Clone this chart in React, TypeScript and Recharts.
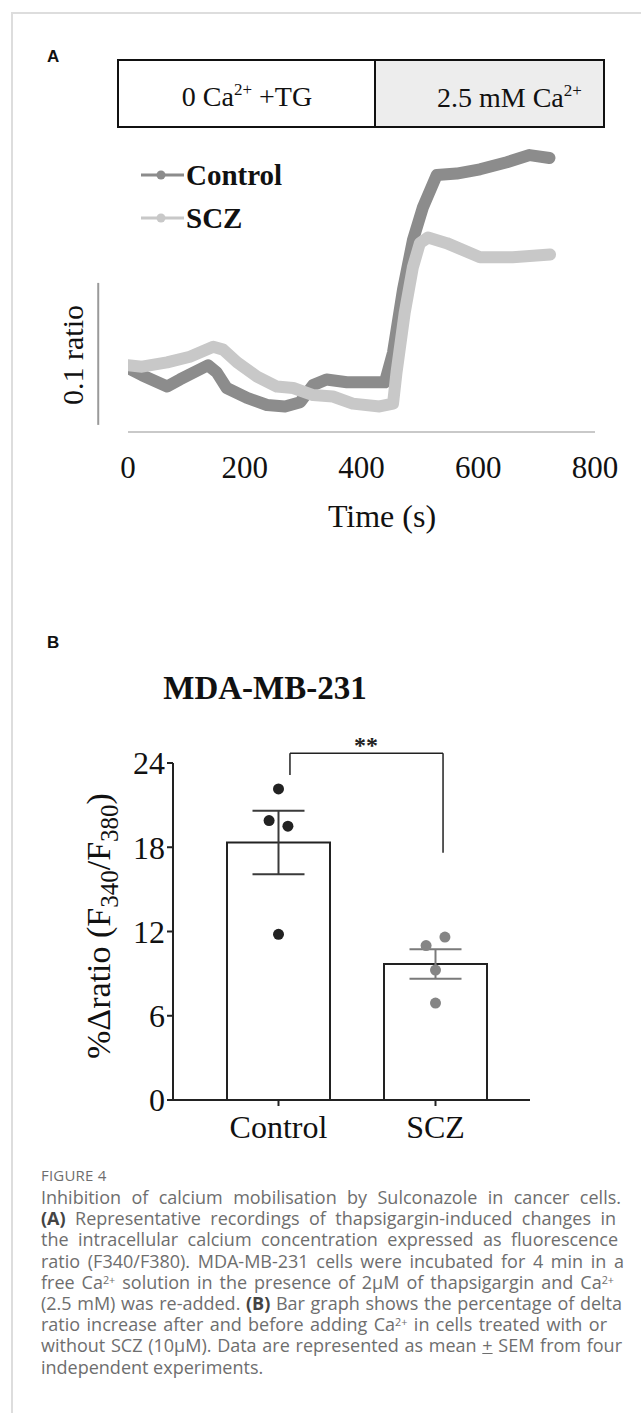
import React from 'react';
import {
  LineChart, Line, XAxis, YAxis, ReferenceLine, Legend,
  ComposedChart, Bar, Scatter, ErrorBar,
} from 'recharts';

// ---------- Panel A : calcium traces ----------
const timeTicks = [0, 200, 400, 600, 800];
const controlTime = [0, 24, 67, 89, 137, 152, 169, 204, 238, 269, 295, 317, 340, 375, 414, 440, 454, 471, 488, 505, 529, 563, 603, 649, 688, 722];
const controlRatio = [0.645, 0.640, 0.632, 0.637, 0.647, 0.642, 0.631, 0.624, 0.619, 0.618, 0.621, 0.633, 0.637, 0.635, 0.635, 0.635, 0.656, 0.700, 0.735, 0.758, 0.781, 0.782, 0.785, 0.790, 0.795, 0.793];
const sczTime = [0, 24, 67, 106, 146, 163, 187, 221, 255, 283, 317, 351, 385, 431, 454, 460, 474, 488, 500, 514, 546, 603, 659, 723];
const sczRatio = [0.647, 0.646, 0.649, 0.653, 0.660, 0.658, 0.649, 0.639, 0.632, 0.631, 0.626, 0.625, 0.620, 0.618, 0.620, 0.642, 0.684, 0.716, 0.733, 0.737, 0.733, 0.723, 0.723, 0.725];
const scaleBarRatio = [0.605, 0.705];

// ---------- Panel B : bar graph ----------
const groups = ['Control', 'SCZ'];
const groupMeans = [18.34, 9.69];
const groupSem = [2.26, 1.05];
const controlValues = [22.15, 19.9, 19.5, 11.8];
const controlOffsets = [0, -0.06, 0.06, 0];
const sczValues = [11.0, 11.6, 9.25, 6.9];
const sczOffsets = [-0.06, 0.06, 0, 0];
const barTicks = [0, 6, 12, 18, 24];

const SERIF = '"Liberation Serif", "Times New Roman", serif';
const SANS = '"Liberation Sans", Arial, sans-serif';
const CAPTION = '"Open Sans", sans-serif';

const controlData = controlTime.map((t, i) => ({ t, ratio: controlRatio[i] }));
const sczData = sczTime.map((t, i) => ({ t, ratio: sczRatio[i] }));
const barData = groups.map((g, i) => ({ group: g, mean: groupMeans[i] }));
const errCtrl = [{ x: 0, y: groupMeans[0], err: groupSem[0] }];
const errScz = [{ x: 1, y: groupMeans[1], err: groupSem[1] }];
const dotsCtrl = controlValues.map((v, i) => ({ x: 0 + controlOffsets[i], y: v }));
const dotsScz = sczValues.map((v, i) => ({ x: 1 + sczOffsets[i], y: v }));

const legendColors: Record<string, string> = { Control: '#8c8c8c', SCZ: '#c8c8c8' };

const LegendA = (props: any) => {
  const items = props.payload || [];
  return (
    <div>
      {items.map((it: any) => (
        <div key={it.value} style={{ display: 'flex', alignItems: 'center', height: 43 }}>
          <svg width={47} height={20} style={{ display: 'block' }}>
            <line x1={2} y1={10} x2={45} y2={10} stroke={legendColors[it.value] || it.color} strokeWidth={3} />
            <circle cx={22} cy={10} r={4.5} fill={legendColors[it.value] || it.color} />
          </svg>
          <span style={{ fontFamily: SERIF, fontWeight: 700, fontSize: 29, lineHeight: 1, color: '#111' }}>{it.value}</span>
        </div>
      ))}
    </div>
  );
};

const timeLabel = () => (
  <text x={382} y={527} textAnchor="middle" fontSize={32} fontFamily={SERIF} fill="#111">Time (s)</text>
);
const ratioLabel = () => (
  <text transform="translate(83,355) rotate(-90)" x={0} y={0} textAnchor="middle" fontSize={30} fontFamily={SERIF} fill="#111">0.1 ratio</text>
);
const yLabelB = () => (
  <text transform="translate(110,306) rotate(-90)" x={0} y={0} textAnchor="middle" fontSize={34} fontFamily={SERIF} fill="#111">
    %Δratio (F<tspan dy={8} fontSize={25}>340</tspan><tspan dy={-8}>/F</tspan><tspan dy={8} fontSize={25}>380</tspan><tspan dy={-8}>)</tspan>
  </text>
);

const emptyShape = () => <g />;
const dotShape = (color: string) => (p: any) => <circle cx={p.cx} cy={p.cy} r={5.5} fill={color} />;

const supStyle: React.CSSProperties = { fontSize: '0.6em', lineHeight: 0, verticalAlign: 'baseline', position: 'relative', top: '-0.45em' };
const boldStyle: React.CSSProperties = { color: '#444', fontWeight: 700 };

const capLines: { w: number; node: React.ReactNode }[] = [
  { w: 580, node: <>Inhibition of calcium mobilisation by Sulconazole in cancer cells.</> },
  { w: 575, node: <><span style={boldStyle}>(A)</span> Representative recordings of thapsigargin-induced changes in</> },
  { w: 577, node: <>the intracellular calcium concentration expressed as fluorescence</> },
  { w: 583, node: <>ratio (F340/F380). MDA-MB-231 cells were incubated for 4 min in a</> },
  { w: 573, node: <>free Ca<span style={supStyle}>2+</span> solution in the presence of 2μM of thapsigargin and Ca<span style={supStyle}>2+</span></> },
  { w: 581, node: <>(2.5 mM) was re-added. <span style={boldStyle}>(B)</span> Bar graph shows the percentage of delta</> },
  { w: 566, node: <>ratio increase after and before adding Ca<span style={supStyle}>2+</span> in cells treated with or</> },
  { w: 581, node: <>without SCZ (10μM). Data are represented as mean <span style={{ textDecoration: 'underline' }}>+</span> SEM from four</> },
  { w: 0, node: <>independent experiments.</> },
];

export default function App() {
  return (
    <div style={{ position: 'absolute', left: 0, top: 0, width: 641, height: 1413, overflow: 'hidden', background: '#fff' }}>
      <div style={{ position: 'absolute', left: 11, top: 12, width: 640, height: 1410, borderTop: '2px solid #dddddd', borderLeft: '2px solid #dddddd' }} />

      {/* Panel A chart */}
      <div style={{ position: 'absolute', left: 0, top: 0 }}>
        <LineChart width={641} height={560} margin={{ top: 148, right: 46, bottom: 88, left: 128 }}>
          <XAxis dataKey="t" type="number" domain={[0, 800]} ticks={timeTicks} interval={0} allowDataOverflow
            axisLine={{ stroke: '#c9c9c9', strokeWidth: 2 }} tickLine={false} tickSize={0} tickMargin={24} height={40}
            tick={{ fill: '#111', fontSize: 31, fontFamily: SERIF }} label={timeLabel} />
          <YAxis hide type="number" domain={[0.6, 0.8]} allowDataOverflow />
          <ReferenceLine segment={[{ x: -51, y: scaleBarRatio[0] }, { x: -51, y: scaleBarRatio[1] }]}
            stroke="#9a9a9a" strokeWidth={2} ifOverflow="visible" label={ratioLabel} />
          <Line data={controlData} dataKey="ratio" name="Control" stroke="#8c8c8c" strokeWidth={12} dot={false}
            isAnimationActive={false} strokeLinecap="round" strokeLinejoin="round" type="linear" />
          <Line data={sczData} dataKey="ratio" name="SCZ" stroke="#c8c8c8" strokeWidth={12} dot={false}
            isAnimationActive={false} strokeLinecap="round" strokeLinejoin="round" type="linear" />
          <Legend layout="vertical" align="center" verticalAlign="middle" content={LegendA}
            wrapperStyle={{ position: 'absolute', left: 139, top: 153.5, width: 220, height: 86 }} />
        </LineChart>
      </div>

      {/* Panel B chart */}
      <div style={{ position: 'absolute', left: 0, top: 620 }}>
        <ComposedChart width={641} height={540} data={barData} margin={{ top: 143, right: 111, bottom: 20, left: 113 }}>
          <XAxis dataKey="group" type="category" padding={{ left: 27, right: 16 }} height={40}
            axisLine={{ stroke: '#222', strokeWidth: 2 }} tickLine={{ stroke: '#222', strokeWidth: 2 }} tickSize={6} tickMargin={9}
            tick={{ fill: '#111', fontSize: 32, fontFamily: SERIF }} />
          <XAxis xAxisId="num" dataKey="x" type="number" domain={[-0.5, 1.5]} padding={{ left: 27, right: 16 }} hide allowDataOverflow />
          <YAxis type="number" domain={[0, 24]} ticks={barTicks} interval={0} width={60} allowDataOverflow
            axisLine={{ stroke: '#222', strokeWidth: 2 }} tickLine={{ stroke: '#222', strokeWidth: 2 }} tickSize={6}
            tick={{ fill: '#111', fontSize: 32, fontFamily: SERIF }} label={yLabelB} />
          <Bar dataKey="mean" barSize={103} fill="#ffffff" stroke="#222" strokeWidth={2} isAnimationActive={false} />
          <Scatter xAxisId="num" data={errCtrl} dataKey="y" shape={emptyShape} isAnimationActive={false}>
            <ErrorBar dataKey="err" direction="y" width={26} stroke="#3a3a3a" strokeWidth={2} />
          </Scatter>
          <Scatter xAxisId="num" data={errScz} dataKey="y" shape={emptyShape} isAnimationActive={false}>
            <ErrorBar dataKey="err" direction="y" width={26} stroke="#7a7a7a" strokeWidth={2} />
          </Scatter>
          <Scatter xAxisId="num" data={dotsCtrl} dataKey="y" shape={dotShape('#222')} isAnimationActive={false} />
          <Scatter xAxisId="num" data={dotsScz} dataKey="y" shape={dotShape('#858585')} isAnimationActive={false} />
          <ReferenceLine xAxisId="num" segment={[{ x: 0.073, y: 24.7 }, { x: 1.048, y: 24.7 }]} stroke="#222" strokeWidth={1.5} ifOverflow="visible" />
          <ReferenceLine xAxisId="num" segment={[{ x: 0.073, y: 24.7 }, { x: 0.073, y: 23.15 }]} stroke="#222" strokeWidth={1.5} ifOverflow="visible" />
          <ReferenceLine xAxisId="num" segment={[{ x: 1.048, y: 24.7 }, { x: 1.048, y: 17.6 }]} stroke="#222" strokeWidth={1.5} ifOverflow="visible" />
        </ComposedChart>
      </div>

      {/* Annotation overlay */}
      <svg width={641} height={760} style={{ position: 'absolute', left: 0, top: 0, pointerEvents: 'none' }}>
        <text x={47} y={62} fontFamily={SANS} fontWeight={700} fontSize={17} fill="#111">A</text>
        <rect x={118} y={60} width={257} height={67} fill="#ffffff" stroke="#111" strokeWidth={2} />
        <rect x={375} y={60} width={229} height={67} fill="#ededed" stroke="#111" strokeWidth={2} />
        <text x={247} y={106} textAnchor="middle" fontFamily={SERIF} fontSize={28} fill="#111">
          0 Ca<tspan dy={-11} fontSize={17}>2+</tspan><tspan dy={11}> +TG</tspan>
        </text>
        <text x={437} y={107} fontFamily={SERIF} fontSize={28} fill="#111">
          2.5 mM Ca<tspan dy={-11} fontSize={17}>2+</tspan>
        </text>
        <text x={47} y={648} fontFamily={SANS} fontWeight={700} fontSize={17} fill="#111">B</text>
        <text x={265} y={699} textAnchor="middle" fontFamily={SERIF} fontWeight={700} fontSize={33} fill="#111">MDA-MB-231</text>
        <text x={366} y={753} textAnchor="middle" fontFamily={SERIF} fontWeight={700} fontSize={24} fill="#222">**</text>
      </svg>

      {/* Caption */}
      <div style={{ position: 'absolute', left: 41, top: 1163, fontFamily: CAPTION, color: '#6e6e6e' }}>
        <div style={{ fontSize: 15, lineHeight: '24px', letterSpacing: 0.2 }}>FIGURE 4</div>
        <div style={{ fontSize: 18, lineHeight: '21.2px' }}>
          {capLines.map((l, i) => (
            <div key={i} style={l.w ? { width: l.w, whiteSpace: 'nowrap', textAlign: 'justify', textAlignLast: 'justify' } : { whiteSpace: 'nowrap' }}>
              {l.node}
            </div>
          ))}
        </div>
      </div>
    </div>
  );
}
